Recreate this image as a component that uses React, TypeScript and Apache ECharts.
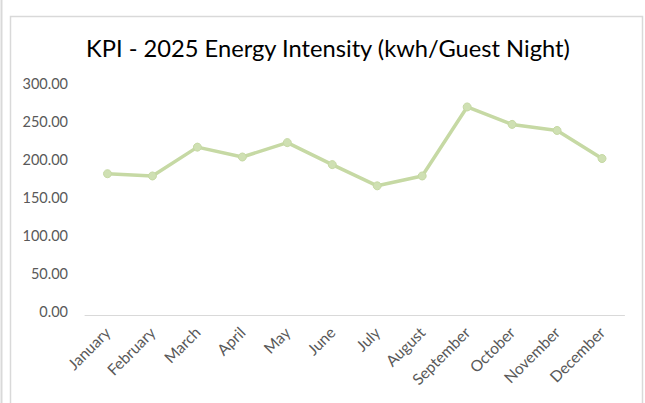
import React, { useEffect, useRef } from "react";
import * as echarts from "echarts";

const months = ["January", "February", "March", "April", "May", "June", "July", "August", "September", "October", "November", "December"];
const intensity = [187, 184, 222, 209, 228, 199, 171, 184, 275, 252, 244, 207];
const yTicks = [0, 50, 100, 150, 200, 250, 300];

export default function App() {
  const ref = useRef<HTMLDivElement>(null);
  useEffect(() => {
    if (!ref.current) return;
    const chart = echarts.init(ref.current, null, { renderer: "svg" });
    chart.setOption({
      animation: false,
      backgroundColor: "#ffffff",
      title: {
        text: "KPI - 2025 Energy Intensity (kwh/Guest Night)",
        left: 323,
        textAlign: "center",
        top: 31,
        textStyle: { fontFamily: "Lato", fontWeight: "normal", fontSize: 23.7, color: "#000000" },
      },
      graphic: [
        { type: "line", shape: { x1: 1.5, y1: 0, x2: 1.5, y2: 403 }, style: { stroke: "#d9d9d9", lineWidth: 2 } },
        { type: "polyline", shape: { points: [[10.5, 403], [10.5, 16.5], [642.5, 16.5], [642.5, 403]] }, style: { stroke: "#d9d9d9", lineWidth: 1.5, fill: "none" } },
      ],
      grid: { left: 85, right: 20.5, top: 88, bottom: 87.5, containLabel: false },
      xAxis: {
        type: "category",
        data: months,
        boundaryGap: true,
        axisLine: { lineStyle: { color: "#d9d9d9", width: 1 } },
        axisTick: { show: false },
        axisLabel: { rotate: 45, color: "#595959", fontSize: 15.5, fontFamily: "Lato", margin: 14, interval: 0 },
      },
      yAxis: {
        type: "value",
        min: yTicks[0],
        max: yTicks[yTicks.length - 1],
        interval: 50,
        axisLine: { show: false },
        axisTick: { show: false },
        splitLine: { show: false },
        axisLabel: {
          color: "#595959",
          fontSize: 14.5,
          fontFamily: "Lato",
          margin: 17,
          verticalAlign: "bottom",
          lineHeight: 9,
          formatter: (v: number) => v.toFixed(2),
        },
      },
      series: [
        {
          type: "line",
          data: intensity,
          symbol: "circle",
          symbolSize: 8,
          lineStyle: { color: "#c6d9a4", width: 3.5 },
          itemStyle: { color: "#cfe0b3", borderColor: "#c6d9a4", borderWidth: 1 },
        },
      ],
    });
    return () => chart.dispose();
  }, []);
  return <div ref={ref} style={{ position: "fixed", left: 0, top: 0, width: 645, height: 403 }} />;
}
